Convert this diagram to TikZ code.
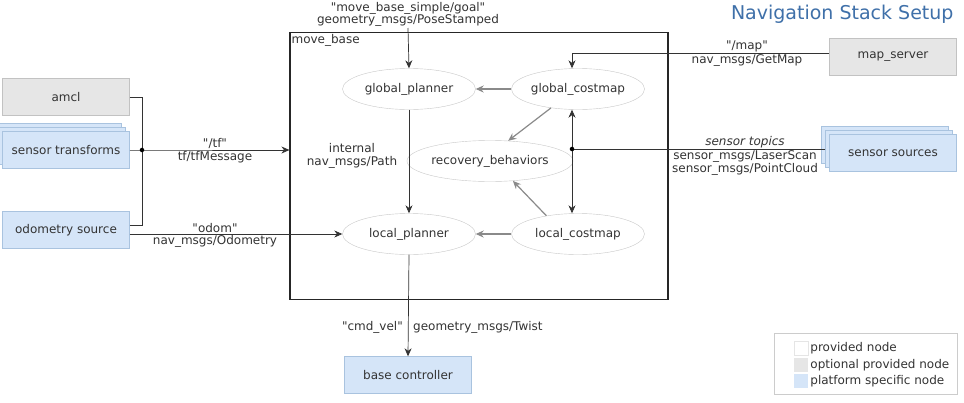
\documentclass[tikz,border=0pt]{standalone}
\usepackage{fontspec}
\setmainfont{DejaVu Sans}
\usepackage{xcolor}
\usetikzlibrary{arrows.meta,calc,shapes.geometric}
\definecolor{ink}{HTML}{333333}
\definecolor{wire}{HTML}{333333}
\definecolor{softwire}{HTML}{8A8A8A}
\definecolor{optfill}{HTML}{E6E6E6}
\definecolor{optline}{HTML}{C2C2C2}
\definecolor{platfill}{HTML}{D5E5F8}
\definecolor{platline}{HTML}{A9C3DF}
\definecolor{ellline}{HTML}{C8C8C8}
\definecolor{titleblue}{HTML}{3F70A9}
\newcommand\topic[1]{\textquotedbl#1\textquotedbl}
\tikzset{
  every node/.style={text=ink, font=\fontsize{12}{13.5}\selectfont},
  optbox/.style={rectangle, fill=optfill, draw=optline, minimum width=127pt, minimum height=37pt},
  platbox/.style={rectangle, fill=platfill, draw=platline, minimum width=127pt, minimum height=37pt},
  proc/.style={ellipse, fill=white, draw=ellline, minimum width=133pt, minimum height=41pt, inner sep=0pt},
  msg/.style={-{Stealth[length=8pt,width=7pt]}, line width=0.7pt, draw=wire},
  twoway/.style={{Stealth[length=8pt,width=7pt]}-{Stealth[length=8pt,width=7pt]}, line width=0.7pt, draw=wire},
  plain/.style={line width=0.7pt, draw=wire},
  inmsg/.style={-{Stealth[length=8pt,width=7pt]}, line width=1.2pt, draw=softwire},
  lab/.style={inner sep=1pt},
  dot/.style={circle, fill=black, inner sep=1.6pt},
  swatch/.style={rectangle, minimum width=14pt, minimum height=14pt, inner sep=0pt}
}
\begin{document}
\begin{tikzpicture}[x=1pt, y=-1pt]
  \useasboundingbox[fill=white] (0,0) rectangle (964,402);

  % move_base frame
  \node[draw=black!85, line width=1.2pt, minimum width=378pt, minimum height=267pt] (mb) at (479,166) {};
  \node[anchor=north west, inner sep=2pt] at (mb.north west) {move\_base};

  % left side sources
  \node[optbox] (amcl) at (66,97) {amcl};
  \node[platbox] (st1) at (58,142) {};
  \node[platbox] (st2) at (62,146) {};
  \node[platbox] (st) at (66,150) {sensor transforms};
  \node[platbox] (odom) at (66,230) {odometry source};

  % right side sources
  \node[optbox] (ms) at (893,57) {map\_server};
  \node[platbox] (ss1) at (885,145) {};
  \node[platbox] (ss2) at (889,149) {};
  \node[platbox] (ss) at (893,153) {sensor sources};

  % internals
  \node[proc] (gp) at (409,89) {global\_planner};
  \node[proc] (gc) at (578,89) {global\_costmap};
  \node[proc] (rb) at (490,161) {recovery\_behaviors};
  \node[proc] (lp) at (409,234) {local\_planner};
  \node[proc] (lc) at (578,234) {local\_costmap};

  \node[platbox] (bc) at (408,375) {base controller};

  \coordinate (tfj) at (142,150);
  \coordinate (sj) at (572,149);
  \coordinate (goal) at (408,28);

  % tf
  \draw[plain] (amcl.east) -| (tfj);
  \draw[plain] ([yshift=5pt]odom.east) -| (tfj);
  \draw[msg] (st.east) -- (tfj) -- (mb.west |- tfj);
  \node[dot] at (tfj) {};
  \node[lab, above] at (215,150) {\topic{/tf}};
  \node[lab, below] at (215,150) {tf/tfMessage};

  % odom
  \draw[msg] ([yshift=-4pt]odom.east) -- (lp.west);
  \node[lab, above] at (215,234) {\topic{odom}};
  \node[lab, below] at (215,234) {nav\_msgs/Odometry};

  % goal
  \draw[msg] (goal) -- (gp.north);
  \node[lab, align=center, above, font=\fontsize{12}{12}\selectfont] at (goal) {\topic{move\_base\_simple/goal}\\geometry\_msgs/PoseStamped};

  % map
  \draw[msg] ([yshift=4pt]ms.west) -| ([xshift=-6pt]gc.north);
  \node[lab, above] at (747,53) {\topic{/map}};
  \node[lab, below] at (747,53) {nav\_msgs/GetMap};

  % sensor topics
  \draw[twoway] ([xshift=-6pt]gc.south) -- ([xshift=-6pt]lc.north);
  \draw[plain] (ss2.west) -- (sj);
  \node[dot] at (sj) {};
  \node[lab, above] at (745,149) {\itshape sensor topics};
  \node[lab, below, align=center, font=\fontsize{12}{13}\selectfont] at (745,149) {sensor\_msgs/LaserScan\\sensor\_msgs/PointCloud};

  % inside move_base
  \draw[inmsg] (gc) -- (gp);
  \draw[inmsg] (lc) -- (lp);
  \draw[inmsg] (gc.215) -- (rb.48);
  \draw[inmsg] (lc.150) -- (rb.-41);
  \draw[msg] (gp) -- (lp);
  \node[lab, align=center] at (352,156) {internal\\nav\_msgs/Path};

  % cmd_vel
  \draw[msg] (lp.south) -- (bc.north);
  \node[lab, anchor=east] at (404,327) {\topic{cmd\_vel}};
  \node[lab, anchor=west] at (412,327) {geometry\_msgs/Twist};

  % title
  \node[anchor=east, text=titleblue, font=\fontsize{19}{22}\selectfont] at (957,14) {Navigation Stack Setup};

  % legend
  \draw[draw=black!20, fill=white] (774,333) rectangle (957,394);
  \node[swatch, fill=white, draw=black!10] (lg1) at (801,348) {};
  \node[swatch, fill=optfill] (lg2) at (801,365) {};
  \node[swatch, fill=platfill] (lg3) at (801,381) {};
  \node[anchor=west, inner sep=2pt] at (lg1.east) {provided node};
  \node[anchor=west, inner sep=2pt] at (lg2.east) {optional provided node};
  \node[anchor=west, inner sep=2pt] at (lg3.east) {platform specific node};
\end{tikzpicture}
\end{document}
